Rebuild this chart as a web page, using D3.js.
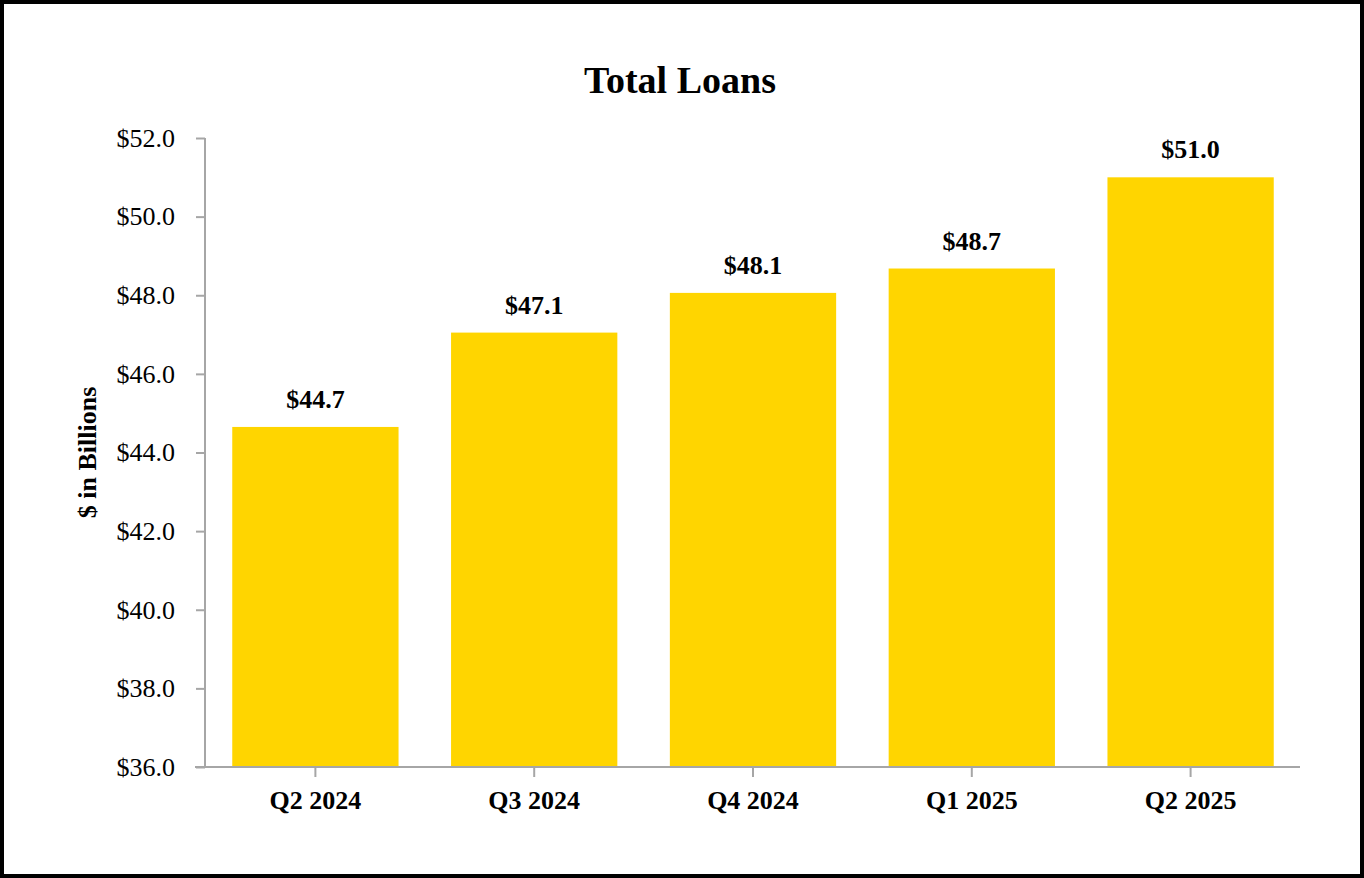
<!DOCTYPE html>
<html><head><meta charset="utf-8">
<script src="https://cdn.jsdelivr.net/npm/d3@7"></script>
<style>
html,body{margin:0;padding:0;background:#fff;}
svg{display:block;}
text{font-family:"Liberation Serif","Times New Roman",serif;}
</style></head>
<body>
<svg id="chart" width="1364" height="878"></svg>
<script>
const categories = ["Q2 2024","Q3 2024","Q4 2024","Q1 2025","Q2 2025"];
const values = [44.65, 47.05, 48.06, 48.68, 51.0];
const valueLabels = ["$44.7","$47.1","$48.1","$48.7","$51.0"];
const yTicks = [36,38,40,42,44,46,48,50,52];

(function(){
const svg = d3.select("#chart");
const W = 1364, H = 878;
svg.append("rect").attr("x",2).attr("y",2).attr("width",W-4).attr("height",H-4)
  .attr("fill","#fff").attr("stroke","#000").attr("stroke-width",4);

const pL = 206, pR = 1300, pT = 138, pB = 767;
const x = d3.scaleBand().domain(categories).range([pL,pR]).paddingInner(0.24).paddingOuter(0.12);
const y = d3.scaleLinear().domain([36,52]).range([pB,pT]);

svg.append("text").attr("x",680).attr("y",93).attr("text-anchor","middle")
  .attr("font-size",38).attr("font-weight","bold").text("Total Loans");

svg.selectAll("rect.bar").data(values).join("rect").attr("class","bar")
  .attr("x",(d,i)=>x(categories[i])).attr("width",x.bandwidth())
  .attr("y",d=>y(d)).attr("height",d=>pB-y(d)).attr("fill","#FFD500");

svg.selectAll("text.vl").data(values).join("text").attr("class","vl")
  .attr("x",(d,i)=>x(categories[i])+x.bandwidth()/2).attr("y",d=>y(d)-19)
  .attr("text-anchor","middle").attr("font-size",26).attr("font-weight","bold")
  .text((d,i)=>valueLabels[i]);

const yAxis = svg.append("g").attr("transform",`translate(${pL-1},0)`)
  .call(d3.axisLeft(y).tickValues(yTicks).tickSize(9).tickPadding(21).tickFormat(d=>"$"+d.toFixed(1)));
yAxis.select(".domain").attr("stroke","#A6A6A6").attr("stroke-width",2).attr("d",`M0,${pT}V${pB}`);
yAxis.selectAll(".tick line").attr("stroke","#A6A6A6").attr("stroke-width",2);
yAxis.selectAll(".tick text").attr("font-size",26).attr("fill","#000")
  .style("font-family","'Liberation Serif','Times New Roman',serif");

const xAxis = svg.append("g").attr("transform",`translate(0,${pB})`)
  .call(d3.axisBottom(x).tickSize(10).tickPadding(14));
xAxis.select(".domain").attr("stroke","#A6A6A6").attr("stroke-width",2).attr("d",`M${pL-11},0H${pR}`);
xAxis.selectAll(".tick line").attr("stroke","#A6A6A6").attr("stroke-width",2);
xAxis.selectAll(".tick text").attr("font-size",26).attr("font-weight","bold").attr("fill","#000")
  .style("font-family","'Liberation Serif','Times New Roman',serif");

svg.append("text").attr("transform",`translate(96,${(pT+pB)/2}) rotate(-90)`)
  .attr("text-anchor","middle").attr("font-size",26).attr("font-weight","bold").text("$ in Billions");
})();
</script>
</body></html>
